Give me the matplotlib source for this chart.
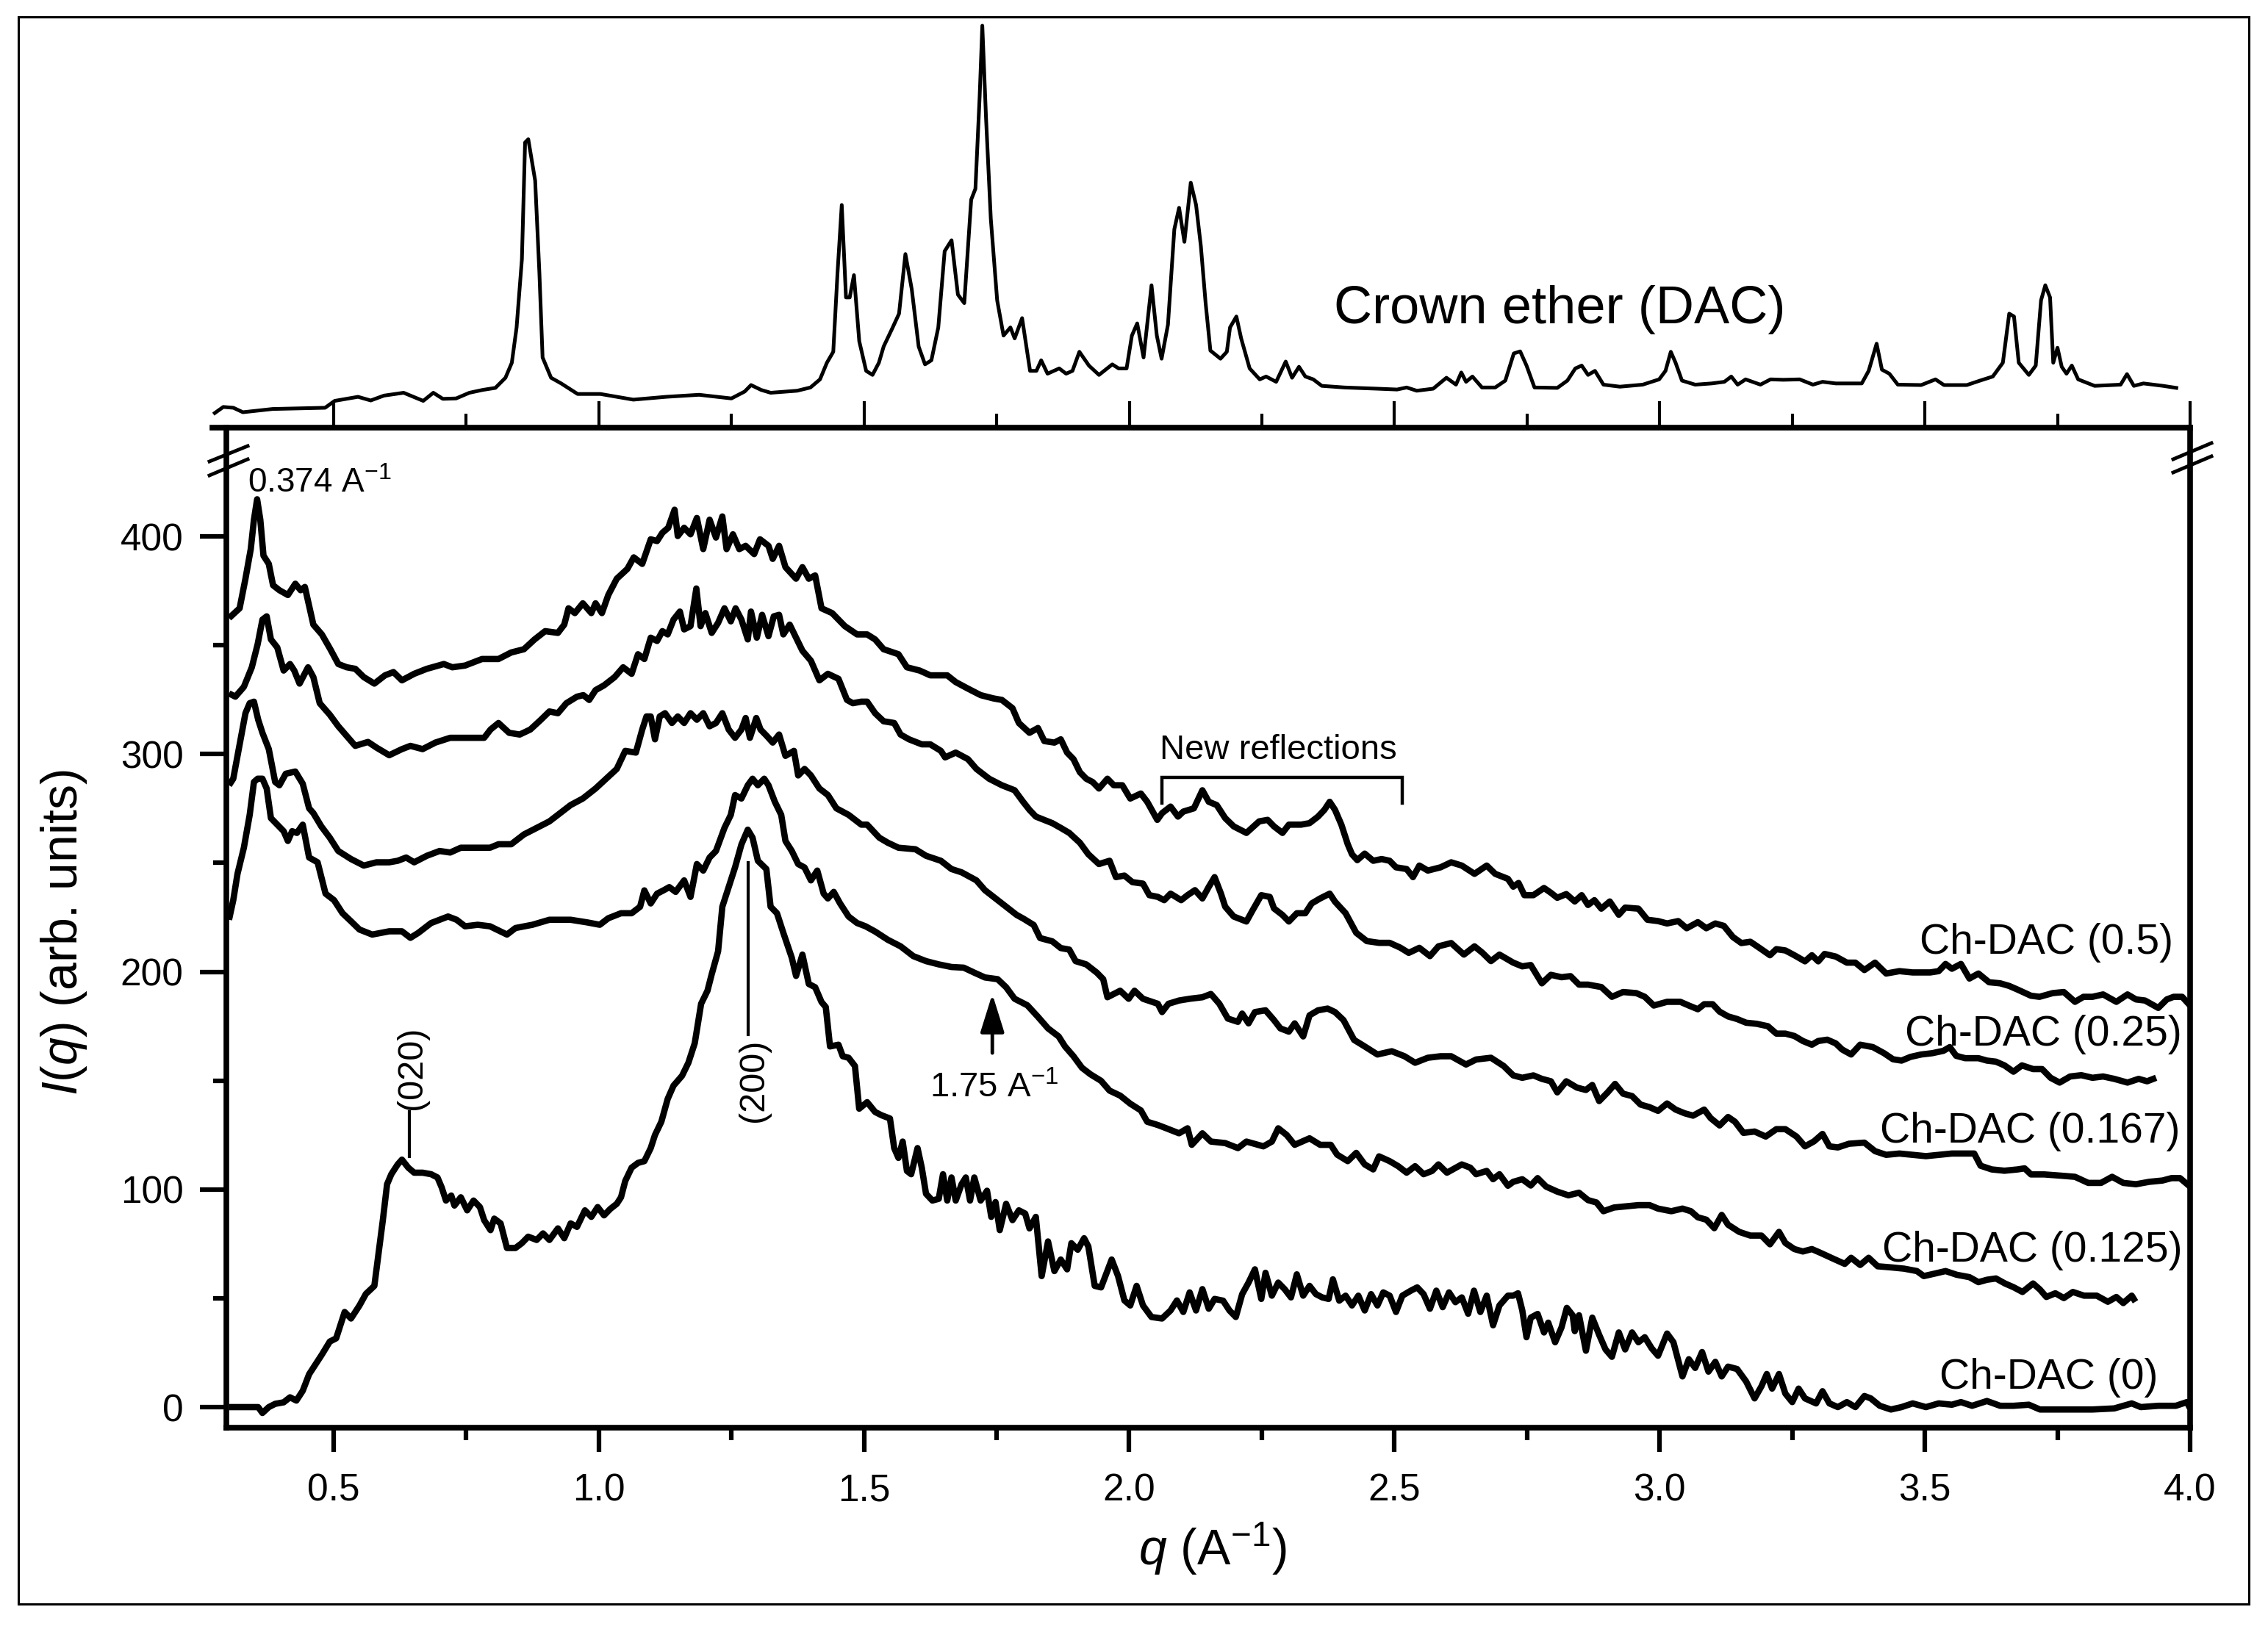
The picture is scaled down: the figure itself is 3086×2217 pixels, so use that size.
import matplotlib
matplotlib.use("Agg")
import matplotlib.pyplot as plt
from matplotlib.lines import Line2D
from matplotlib.patches import Rectangle
from matplotlib.ticker import FixedLocator

plt.rcParams['font.family'] = ['Liberation Sans', 'DejaVu Sans']
plt.rcParams['mathtext.fontset'] = 'custom'
plt.rcParams['mathtext.rm'] = 'Liberation Sans'
plt.rcParams['mathtext.it'] = 'Liberation Sans:italic'
plt.rcParams['mathtext.bf'] = 'Liberation Sans:bold'

# ---- data (q in A^-1, intensity in arb. units) ----
crown_pts = [
    (0.276, 3.6), (0.292, 5.1), (0.311, 4.9), (0.329, 3.8), (0.385, 4.6), (0.484, 4.9), (0.502, 6.6),
    (0.546, 7.6), (0.57, 6.7), (0.595, 7.9), (0.632, 8.6), (0.669, 6.6), (0.688, 8.6), (0.706, 7.1),
    (0.731, 7.2), (0.756, 8.6), (0.781, 9.3), (0.805, 9.8), (0.824, 12.3), (0.836, 16.0), (0.845, 24.7),
    (0.855, 41.5), (0.861, 70.3), (0.867, 71.1), (0.88, 60.9), (0.888, 38.1), (0.894, 17.3), (0.91, 12.3),
    (0.929, 10.9), (0.96, 8.3), (1.003, 8.3), (1.065, 6.9), (1.127, 7.6), (1.189, 8.1), (1.25, 7.2),
    (1.275, 8.9), (1.287, 10.5), (1.306, 9.3), (1.324, 8.6), (1.374, 9.1), (1.399, 9.9), (1.417, 11.9),
    (1.43, 16.0), (1.442, 18.7), (1.45, 38.1), (1.458, 54.9), (1.466, 32.1), (1.473, 32.1), (1.481, 37.6),
    (1.491, 21.3), (1.504, 14.0), (1.516, 13.0), (1.528, 16.0), (1.537, 20.0), (1.553, 24.4), (1.566, 28.1),
    (1.578, 42.8), (1.59, 34.1), (1.603, 20.0), (1.615, 15.6), (1.627, 16.6), (1.64, 24.7), (1.652, 43.5),
    (1.665, 46.2), (1.677, 32.8), (1.689, 30.7), (1.702, 56.2), (1.71, 58.9), (1.718, 81.7), (1.723, 99.1),
    (1.73, 76.4), (1.739, 51.5), (1.751, 31.4), (1.763, 22.7), (1.776, 24.7), (1.784, 22.0), (1.798, 27.0),
    (1.813, 14.0), (1.825, 14.0), (1.834, 16.6), (1.846, 13.3), (1.868, 14.6), (1.881, 13.3), (1.893, 14.0),
    (1.906, 18.7), (1.924, 15.3), (1.943, 13.0), (1.968, 15.6), (1.98, 14.6), (1.995, 14.6), (2.005, 22.7),
    (2.015, 25.7), (2.027, 17.3), (2.042, 35.1), (2.052, 22.7), (2.061, 17.0), (2.073, 25.4), (2.085, 48.9),
    (2.094, 54.2), (2.104, 45.8), (2.116, 60.4), (2.126, 54.9), (2.135, 44.8), (2.144, 30.7), (2.153, 19.0),
    (2.172, 17.0), (2.184, 18.7), (2.19, 24.7), (2.202, 27.4), (2.211, 22.0), (2.227, 14.6), (2.246, 11.9),
    (2.258, 12.6), (2.277, 11.3), (2.295, 16.3), (2.307, 12.3), (2.32, 15.0), (2.332, 12.6), (2.347, 11.9),
    (2.363, 10.3), (2.406, 9.9), (2.468, 9.6), (2.505, 9.4), (2.523, 9.9), (2.542, 9.1), (2.573, 9.6),
    (2.598, 12.3), (2.616, 10.6), (2.626, 13.6), (2.635, 11.3), (2.647, 12.6), (2.665, 9.9), (2.69, 9.9),
    (2.709, 11.6), (2.725, 18.3), (2.737, 18.8), (2.749, 15.3), (2.764, 9.9), (2.807, 9.8), (2.826, 11.6),
    (2.841, 14.6), (2.853, 15.3), (2.865, 13.0), (2.878, 14.0), (2.894, 10.6), (2.925, 10.1), (2.968, 10.6),
    (2.999, 11.9), (3.011, 14.0), (3.021, 18.7), (3.03, 16.0), (3.042, 11.6), (3.067, 10.6), (3.098, 10.9),
    (3.122, 11.3), (3.135, 12.6), (3.147, 10.6), (3.162, 11.9), (3.19, 10.6), (3.209, 11.9), (3.233, 11.8),
    (3.264, 11.9), (3.289, 10.6), (3.307, 11.3), (3.332, 10.9), (3.381, 10.9), (3.394, 14.0), (3.409, 20.7),
    (3.419, 14.3), (3.433, 13.3), (3.449, 10.6), (3.493, 10.5), (3.52, 11.9), (3.536, 10.5), (3.579, 10.5),
    (3.604, 11.6), (3.628, 12.6), (3.647, 16.0), (3.659, 28.1), (3.668, 27.4), (3.677, 16.0), (3.696, 13.0),
    (3.709, 15.3), (3.719, 31.4), (3.727, 35.1), (3.736, 32.1), (3.742, 16.0), (3.75, 19.7), (3.758, 15.0),
    (3.767, 13.3), (3.777, 15.3), (3.789, 11.9), (3.82, 10.3), (3.869, 10.6), (3.881, 13.2), (3.894, 10.3),
    (3.912, 10.9), (3.949, 10.3), (3.974, 9.8),
]

dac_05 = [
    (0.303, 362.5), (0.323, 367.0), (0.334, 380.6), (0.344, 394.2), (0.350, 407.7), (0.356, 417.1),
    (0.362, 407.7), (0.368, 391.2), (0.378, 387.4), (0.386, 377.6), (0.398, 375.3), (0.414, 373.1),
    (0.428, 378.3), (0.438, 375.3), (0.446, 376.8), (0.462, 359.5), (0.478, 355.0), (0.494, 348.2),
    (0.509, 341.4), (0.525, 339.9), (0.541, 339.2), (0.557, 335.4), (0.577, 332.4), (0.597, 336.2),
    (0.613, 337.7), (0.629, 333.9), (0.652, 336.9), (0.676, 339.2), (0.708, 341.4), (0.724, 339.9),
    (0.748, 340.7), (0.780, 343.7), (0.811, 343.7), (0.835, 346.7), (0.859, 348.2), (0.879, 352.7),
    (0.899, 356.5), (0.923, 355.7), (0.935, 359.5), (0.943, 367.0), (0.955, 364.8), (0.970, 369.3),
    (0.986, 364.8), (0.994, 369.3), (1.006, 364.8), (1.018, 373.1), (1.034, 380.6), (1.054, 385.1),
    (1.066, 390.4), (1.082, 387.4), (1.098, 398.7), (1.110, 397.9), (1.120, 401.7), (1.131, 404.0),
    (1.143, 412.3), (1.149, 400.2), (1.161, 404.0), (1.173, 401.0), (1.185, 408.5), (1.197, 394.2),
    (1.209, 407.7), (1.221, 399.5), (1.233, 409.2), (1.241, 394.2), (1.253, 401.0), (1.265, 394.2),
    (1.277, 395.7), (1.293, 391.9), (1.304, 398.7), (1.320, 395.7), (1.328, 389.7), (1.340, 395.7),
    (1.352, 385.9), (1.372, 380.6), (1.384, 385.9), (1.396, 380.6), (1.408, 382.1), (1.420, 367.0),
    (1.440, 364.8), (1.464, 358.8), (1.487, 355.0), (1.506, 355.0), (1.521, 352.7), (1.537, 348.2),
    (1.565, 345.9), (1.581, 339.9), (1.605, 338.4), (1.625, 336.2), (1.657, 336.2), (1.673, 333.1),
    (1.696, 330.1), (1.720, 327.1), (1.744, 325.6), (1.760, 324.9), (1.780, 321.1), (1.792, 314.3),
    (1.812, 309.8), (1.828, 312.0), (1.840, 306.0), (1.859, 305.3), (1.871, 306.8), (1.883, 300.7),
    (1.895, 297.7), (1.907, 291.7), (1.919, 288.7), (1.931, 287.2), (1.943, 284.2), (1.959, 288.7),
    (1.971, 285.7), (1.987, 285.7), (2.002, 279.6), (2.022, 281.9), (2.034, 278.1), (2.053, 269.8),
    (2.062, 272.9), (2.078, 275.9), (2.092, 271.3), (2.102, 273.6), (2.122, 275.1), (2.138, 283.4),
    (2.150, 278.1), (2.165, 276.6), (2.181, 270.6), (2.197, 266.8), (2.221, 263.8), (2.245, 269.1),
    (2.261, 269.8), (2.273, 266.8), (2.289, 263.8), (2.301, 267.6), (2.324, 267.6), (2.340, 268.3),
    (2.356, 271.3), (2.368, 274.4), (2.378, 278.1), (2.388, 274.4), (2.400, 267.6), (2.412, 258.6),
    (2.420, 254.0), (2.430, 251.3), (2.444, 254.3), (2.460, 251.0), (2.476, 251.8), (2.491, 251.0),
    (2.503, 248.0), (2.523, 247.2), (2.535, 243.5), (2.547, 248.8), (2.563, 246.5), (2.587, 248.0),
    (2.607, 250.3), (2.627, 248.8), (2.651, 245.0), (2.674, 248.8), (2.690, 245.0), (2.714, 242.7),
    (2.724, 239.1), (2.734, 240.8), (2.745, 235.2), (2.762, 235.2), (2.782, 238.5), (2.795, 236.3),
    (2.807, 234.0), (2.824, 235.7), (2.840, 232.3), (2.853, 235.2), (2.865, 230.7), (2.877, 232.9),
    (2.890, 229.0), (2.906, 232.3), (2.923, 226.2), (2.935, 229.5), (2.960, 229.0), (2.977, 223.9),
    (2.997, 223.3), (3.014, 222.2), (3.035, 223.3), (3.051, 220.0), (3.072, 222.8), (3.088, 220.0),
    (3.105, 222.2), (3.121, 221.1), (3.138, 216.0), (3.154, 213.2), (3.171, 213.8), (3.188, 211.0),
    (3.208, 207.6), (3.220, 210.4), (3.237, 209.8), (3.254, 207.6), (3.274, 204.8), (3.287, 207.6),
    (3.299, 204.8), (3.311, 208.2), (3.332, 207.0), (3.353, 204.2), (3.369, 204.2), (3.386, 200.8),
    (3.406, 204.2), (3.427, 199.2), (3.452, 200.3), (3.477, 199.7), (3.510, 199.7), (3.526, 200.3),
    (3.539, 203.6), (3.551, 201.4), (3.568, 203.6), (3.584, 196.9), (3.601, 199.2), (3.621, 195.2),
    (3.642, 194.7), (3.659, 193.5), (3.675, 191.8), (3.700, 189.0), (3.716, 188.5), (3.741, 190.2),
    (3.762, 190.7), (3.783, 186.2), (3.799, 188.5), (3.816, 188.5), (3.836, 189.6), (3.861, 186.2),
    (3.882, 189.6), (3.898, 187.3), (3.915, 186.8), (3.940, 183.4), (3.956, 187.3), (3.969, 188.5),
    (3.985, 188.5), (4.0, 184.5),
]

dac_025 = [
    (0.303, 327.9), (0.315, 326.4), (0.331, 330.9), (0.346, 339.9), (0.357, 350.5), (0.366, 361.8),
    (0.374, 363.3), (0.382, 352.7), (0.394, 349.0), (0.406, 338.4), (0.418, 341.4), (0.426, 338.4),
    (0.436, 332.4), (0.452, 339.9), (0.462, 335.4), (0.474, 323.4), (0.493, 318.1), (0.509, 312.8),
    (0.525, 308.3), (0.541, 303.8), (0.565, 305.6), (0.581, 303.0), (0.605, 299.5), (0.629, 302.3),
    (0.645, 303.8), (0.668, 302.3), (0.692, 305.3), (0.720, 307.5), (0.756, 307.5), (0.784, 307.5),
    (0.796, 311.3), (0.811, 314.3), (0.831, 309.8), (0.851, 309.0), (0.871, 311.3), (0.891, 315.8),
    (0.907, 319.6), (0.923, 318.8), (0.939, 323.4), (0.959, 326.4), (0.971, 327.1), (0.982, 324.9),
    (0.994, 329.4), (1.010, 331.6), (1.030, 335.4), (1.046, 339.9), (1.062, 336.9), (1.074, 345.9),
    (1.086, 343.7), (1.098, 353.5), (1.110, 352.0), (1.120, 356.5), (1.130, 355.0), (1.141, 361.8),
    (1.153, 365.5), (1.161, 357.3), (1.173, 358.8), (1.184, 376.1), (1.192, 358.8), (1.201, 364.8),
    (1.213, 355.7), (1.225, 360.3), (1.237, 367.0), (1.249, 361.0), (1.258, 367.0), (1.269, 361.8),
    (1.281, 352.7), (1.287, 365.5), (1.298, 353.5), (1.308, 364.0), (1.320, 354.2), (1.330, 363.3),
    (1.340, 364.0), (1.348, 355.0), (1.360, 359.5), (1.372, 353.5), (1.384, 347.5), (1.400, 342.9),
    (1.416, 333.9), (1.432, 336.9), (1.452, 334.6), (1.468, 324.9), (1.479, 323.4), (1.495, 324.1),
    (1.506, 324.1), (1.521, 318.8), (1.537, 315.1), (1.557, 314.3), (1.569, 309.0), (1.585, 306.8),
    (1.609, 304.5), (1.625, 304.5), (1.645, 301.5), (1.653, 298.5), (1.673, 300.7), (1.696, 297.7),
    (1.712, 293.2), (1.736, 288.7), (1.760, 285.7), (1.784, 283.4), (1.800, 278.1), (1.812, 274.4),
    (1.824, 271.3), (1.855, 268.3), (1.871, 266.1), (1.887, 263.8), (1.907, 259.3), (1.923, 254.0),
    (1.943, 249.5), (1.963, 251.0), (1.975, 243.5), (1.991, 244.2), (2.006, 241.2), (2.026, 240.5),
    (2.038, 235.2), (2.054, 234.4), (2.066, 232.9), (2.078, 235.9), (2.098, 232.9), (2.110, 235.2),
    (2.124, 237.5), (2.138, 233.7), (2.150, 239.0), (2.161, 243.5), (2.173, 235.9), (2.181, 229.9),
    (2.197, 225.4), (2.221, 223.1), (2.233, 228.4), (2.249, 235.2), (2.265, 234.4), (2.273, 229.1),
    (2.289, 226.1), (2.301, 223.1), (2.316, 226.9), (2.332, 226.9), (2.344, 231.4), (2.360, 233.7),
    (2.378, 235.9), (2.388, 232.2), (2.408, 226.9), (2.428, 217.9), (2.448, 214.1), (2.471, 213.3),
    (2.491, 213.3), (2.511, 211.1), (2.527, 208.7), (2.547, 211.0), (2.567, 207.2), (2.583, 211.7),
    (2.607, 213.2), (2.631, 207.9), (2.651, 211.7), (2.666, 208.7), (2.682, 204.9), (2.698, 207.9),
    (2.724, 204.2), (2.741, 202.5), (2.757, 203.1), (2.778, 194.7), (2.795, 198.6), (2.815, 197.5),
    (2.832, 198.0), (2.848, 194.1), (2.865, 194.1), (2.890, 193.0), (2.910, 188.5), (2.931, 190.7),
    (2.956, 190.2), (2.972, 188.5), (2.989, 184.5), (3.014, 186.2), (3.039, 186.2), (3.055, 184.5),
    (3.072, 182.8), (3.084, 185.1), (3.100, 185.1), (3.113, 181.7), (3.129, 179.5), (3.146, 178.3),
    (3.163, 176.6), (3.183, 176.1), (3.204, 175.0), (3.220, 171.6), (3.237, 171.6), (3.254, 170.5),
    (3.270, 168.2), (3.287, 166.5), (3.299, 168.2), (3.316, 168.8), (3.332, 167.1), (3.344, 164.3),
    (3.361, 162.0), (3.378, 166.5), (3.402, 165.4), (3.423, 162.6), (3.440, 159.8), (3.456, 159.2),
    (3.473, 160.9), (3.493, 162.0), (3.514, 162.6), (3.535, 163.7), (3.547, 165.4), (3.559, 161.4),
    (3.576, 160.3), (3.601, 160.3), (3.617, 159.2), (3.634, 158.7), (3.650, 157.0), (3.667, 154.1),
    (3.683, 157.0), (3.704, 155.3), (3.721, 155.3), (3.737, 151.3), (3.754, 149.1), (3.774, 151.9),
    (3.795, 152.5), (3.816, 151.3), (3.836, 151.9), (3.857, 150.8), (3.882, 149.1), (3.903, 150.8),
    (3.919, 149.7), (3.936, 151.3),
]

dac_0167 = [
    (0.303, 285.7), (0.311, 288.7), (0.319, 299.2), (0.327, 309.8), (0.334, 318.8), (0.342, 323.4),
    (0.350, 324.1), (0.358, 315.8), (0.366, 309.8), (0.378, 302.3), (0.390, 287.2), (0.398, 285.7),
    (0.410, 291.0), (0.428, 292.0), (0.442, 286.4), (0.454, 275.1), (0.462, 272.9), (0.477, 266.8),
    (0.493, 261.6), (0.509, 255.5), (0.533, 251.8), (0.557, 248.8), (0.581, 250.3), (0.605, 250.3),
    (0.621, 251.0), (0.637, 252.5), (0.652, 250.3), (0.676, 253.3), (0.700, 255.5), (0.720, 254.8),
    (0.740, 257.0), (0.764, 257.0), (0.795, 257.0), (0.811, 258.6), (0.835, 258.6), (0.859, 263.1),
    (0.883, 266.1), (0.907, 269.1), (0.923, 272.1), (0.947, 276.6), (0.970, 279.6), (0.994, 284.2),
    (1.014, 288.7), (1.034, 293.2), (1.050, 301.5), (1.070, 300.7), (1.082, 311.3), (1.090, 317.3),
    (1.098, 317.3), (1.106, 306.8), (1.115, 317.3), (1.125, 318.8), (1.138, 314.3), (1.149, 317.3),
    (1.161, 314.3), (1.173, 318.8), (1.185, 315.8), (1.197, 318.8), (1.209, 312.8), (1.221, 314.3),
    (1.233, 318.8), (1.245, 311.3), (1.257, 307.5), (1.269, 311.3), (1.277, 316.6), (1.285, 307.5),
    (1.297, 316.6), (1.305, 311.3), (1.317, 308.3), (1.328, 305.3), (1.340, 309.0), (1.352, 299.2),
    (1.368, 301.5), (1.376, 290.2), (1.388, 293.2), (1.400, 290.2), (1.416, 284.2), (1.432, 281.2),
    (1.448, 275.1), (1.471, 272.1), (1.495, 267.6), (1.506, 267.6), (1.529, 261.6), (1.545, 259.3),
    (1.565, 257.0), (1.597, 256.3), (1.617, 253.3), (1.645, 251.0), (1.665, 247.2), (1.684, 245.7),
    (1.712, 242.0), (1.728, 237.5), (1.748, 233.7), (1.768, 229.9), (1.788, 226.1), (1.800, 224.5),
    (1.820, 221.5), (1.832, 215.5), (1.855, 214.0), (1.871, 210.9), (1.887, 210.2), (1.899, 204.9),
    (1.919, 203.4), (1.939, 199.6), (1.951, 196.6), (1.959, 188.3), (1.983, 191.3), (1.999, 187.6),
    (2.010, 191.3), (2.026, 187.6), (2.054, 185.3), (2.062, 181.5), (2.074, 185.3), (2.094, 186.8),
    (2.114, 187.6), (2.138, 188.3), (2.154, 189.8), (2.170, 185.3), (2.186, 178.5), (2.205, 177.0),
    (2.213, 180.8), (2.225, 176.3), (2.237, 181.5), (2.257, 182.3), (2.273, 177.8), (2.285, 174.0),
    (2.301, 172.5), (2.312, 176.3), (2.328, 170.3), (2.340, 180.0), (2.356, 182.3), (2.374, 183.1),
    (2.388, 181.5), (2.404, 177.8), (2.424, 168.7), (2.444, 165.7), (2.468, 162.0), (2.495, 163.5),
    (2.519, 161.2), (2.539, 158.2), (2.563, 160.5), (2.587, 161.2), (2.607, 161.2), (2.635, 157.4),
    (2.654, 159.7), (2.682, 160.5), (2.706, 156.7), (2.724, 152.4), (2.741, 151.3), (2.762, 152.4),
    (2.778, 150.8), (2.795, 149.7), (2.807, 144.6), (2.824, 149.7), (2.844, 146.8), (2.861, 145.7),
    (2.873, 148.0), (2.886, 140.6), (2.902, 144.6), (2.916, 148.5), (2.931, 144.0), (2.948, 142.9),
    (2.964, 139.0), (2.981, 137.8), (2.997, 136.1), (3.014, 139.5), (3.030, 136.7), (3.047, 135.0),
    (3.063, 133.9), (3.084, 136.7), (3.096, 132.8), (3.113, 129.4), (3.129, 133.3), (3.142, 131.1),
    (3.158, 126.0), (3.179, 126.6), (3.200, 124.3), (3.220, 127.7), (3.237, 127.7), (3.258, 124.3),
    (3.274, 119.8), (3.291, 122.1), (3.307, 125.5), (3.320, 119.8), (3.336, 119.3), (3.357, 121.0),
    (3.386, 121.5), (3.406, 117.6), (3.427, 115.9), (3.452, 116.5), (3.477, 115.9), (3.502, 115.3),
    (3.526, 115.9), (3.551, 116.5), (3.593, 116.5), (3.605, 110.9), (3.626, 109.2), (3.650, 108.6),
    (3.675, 109.2), (3.688, 109.7), (3.700, 106.9), (3.725, 106.9), (3.758, 106.3), (3.783, 105.8),
    (3.808, 103.0), (3.832, 103.0), (3.853, 105.8), (3.874, 103.0), (3.898, 102.4), (3.923, 103.5),
    (3.948, 104.1), (3.965, 105.2), (3.981, 105.2), (4.0, 101.3),
]

dac_0125 = [
    (0.303, 223.9), (0.311, 232.9), (0.319, 245.0), (0.331, 257.0), (0.342, 272.1), (0.350, 287.2),
    (0.357, 288.7), (0.366, 288.7), (0.374, 284.2), (0.382, 270.6), (0.394, 267.6), (0.406, 264.6),
    (0.414, 260.1), (0.422, 264.6), (0.431, 263.8), (0.442, 267.6), (0.454, 252.5), (0.470, 250.3),
    (0.485, 235.9), (0.501, 232.9), (0.517, 226.9), (0.533, 223.2), (0.549, 219.4), (0.573, 217.1),
    (0.605, 218.6), (0.629, 218.6), (0.645, 215.6), (0.660, 217.9), (0.684, 222.4), (0.700, 223.9),
    (0.716, 225.4), (0.732, 223.9), (0.748, 220.9), (0.772, 221.6), (0.795, 220.9), (0.827, 217.1),
    (0.843, 220.1), (0.875, 221.6), (0.907, 223.9), (0.947, 223.9), (0.978, 222.7), (1.002, 221.6),
    (1.018, 224.6), (1.042, 226.9), (1.062, 226.9), (1.078, 229.9), (1.086, 237.4), (1.098, 231.4),
    (1.110, 235.9), (1.122, 237.4), (1.133, 238.9), (1.145, 236.7), (1.161, 242.0), (1.173, 234.4),
    (1.185, 249.5), (1.197, 246.5), (1.209, 252.5), (1.221, 255.5), (1.237, 266.1), (1.249, 272.1),
    (1.257, 281.2), (1.269, 279.6), (1.281, 285.7), (1.290, 288.7), (1.300, 285.7), (1.312, 288.7),
    (1.320, 285.7), (1.332, 278.1), (1.344, 272.1), (1.352, 260.1), (1.364, 255.5), (1.376, 249.5),
    (1.388, 247.9), (1.400, 242.0), (1.412, 246.5), (1.424, 235.9), (1.432, 233.7), (1.443, 236.7),
    (1.455, 231.4), (1.471, 225.4), (1.487, 222.4), (1.503, 220.9), (1.521, 218.5), (1.545, 214.7),
    (1.569, 211.7), (1.593, 207.2), (1.617, 204.9), (1.641, 203.4), (1.665, 202.2), (1.688, 201.9),
    (1.708, 199.6), (1.728, 197.4), (1.752, 196.6), (1.768, 192.9), (1.784, 187.6), (1.808, 184.6),
    (1.828, 179.3), (1.847, 174.0), (1.867, 170.3), (1.879, 165.7), (1.895, 161.2), (1.911, 155.9),
    (1.927, 152.9), (1.947, 149.9), (1.963, 145.4), (1.983, 143.1), (2.002, 139.4), (2.022, 136.3),
    (2.034, 131.1), (2.054, 129.6), (2.070, 128.1), (2.094, 125.8), (2.110, 128.1), (2.118, 120.5),
    (2.138, 125.8), (2.154, 122.0), (2.181, 121.3), (2.205, 119.0), (2.221, 122.0), (2.253, 119.8),
    (2.269, 122.0), (2.281, 128.1), (2.297, 125.0), (2.312, 120.5), (2.340, 123.5), (2.360, 120.5),
    (2.380, 120.5), (2.392, 116.0), (2.412, 113.0), (2.428, 116.8), (2.444, 111.5), (2.460, 109.2),
    (2.471, 115.2), (2.491, 113.0), (2.507, 110.7), (2.523, 107.7), (2.539, 110.7), (2.555, 107.0),
    (2.571, 108.5), (2.583, 111.5), (2.599, 107.7), (2.627, 111.5), (2.643, 110.0), (2.654, 107.0),
    (2.674, 108.5), (2.686, 104.7), (2.698, 107.0), (2.714, 101.7), (2.724, 103.5), (2.741, 104.7),
    (2.757, 101.8), (2.770, 105.2), (2.786, 101.3), (2.807, 99.0), (2.828, 97.3), (2.848, 98.5),
    (2.865, 95.1), (2.881, 94.0), (2.894, 90.0), (2.914, 91.7), (2.939, 92.3), (2.960, 92.8),
    (2.981, 92.8), (2.997, 91.2), (3.022, 90.0), (3.043, 91.2), (3.059, 90.0), (3.072, 87.2),
    (3.088, 86.1), (3.103, 82.2), (3.117, 88.3), (3.129, 83.8), (3.150, 80.5), (3.171, 78.8),
    (3.192, 78.8), (3.208, 74.8), (3.225, 80.5), (3.237, 75.4), (3.254, 72.6), (3.270, 71.5),
    (3.287, 72.6), (3.303, 70.9), (3.328, 68.1), (3.349, 65.8), (3.361, 68.6), (3.378, 65.3),
    (3.394, 68.6), (3.411, 64.7), (3.436, 64.2), (3.461, 63.6), (3.485, 62.5), (3.498, 60.2),
    (3.518, 61.3), (3.539, 62.5), (3.560, 60.8), (3.584, 59.7), (3.601, 57.4), (3.617, 58.5),
    (3.634, 59.1), (3.651, 56.8), (3.667, 55.1), (3.684, 52.9), (3.704, 56.8), (3.717, 54.0),
    (3.729, 50.6), (3.746, 52.3), (3.762, 50.1), (3.779, 52.9), (3.800, 51.2), (3.824, 51.2),
    (3.845, 48.4), (3.861, 50.6), (3.874, 47.8), (3.890, 51.2), (3.897, 48.4),
]

dac_0 = [
    (0.303, 0.0), (0.358, 0.0), (0.366, -2.7), (0.378, 0.0), (0.390, 1.5), (0.406, 2.2), (0.418, 4.5),
    (0.430, 3.0), (0.442, 7.5), (0.454, 15.1), (0.466, 19.6), (0.478, 24.1), (0.493, 30.1), (0.505, 31.6),
    (0.513, 37.6), (0.521, 43.7), (0.533, 40.7), (0.549, 46.7), (0.561, 52.0), (0.577, 55.7), (0.585, 70.8),
    (0.593, 85.9), (0.601, 102.4), (0.609, 107.0), (0.621, 111.5), (0.629, 113.7), (0.641, 110.0),
    (0.652, 107.7), (0.668, 107.7), (0.684, 107.0), (0.696, 105.5), (0.704, 100.9), (0.712, 94.9),
    (0.722, 97.2), (0.728, 92.6), (0.740, 96.4), (0.752, 90.4), (0.764, 94.9), (0.776, 91.9), (0.784, 85.9),
    (0.796, 81.3), (0.803, 86.6), (0.815, 84.4), (0.827, 73.1), (0.843, 73.1), (0.855, 75.3), (0.867, 78.3),
    (0.883, 76.8), (0.895, 79.8), (0.907, 76.8), (0.923, 82.1), (0.935, 77.6), (0.947, 84.4), (0.959, 82.8),
    (0.974, 90.4), (0.986, 87.4), (0.998, 91.9), (1.010, 88.1), (1.022, 91.1), (1.034, 93.4), (1.042, 96.4),
    (1.050, 103.9), (1.062, 110.0), (1.074, 112.2), (1.086, 113.0), (1.098, 119.0), (1.106, 125.0),
    (1.118, 131.1), (1.130, 141.6), (1.141, 147.7), (1.157, 152.2), (1.169, 158.2), (1.181, 167.2),
    (1.193, 185.3), (1.205, 191.3), (1.213, 198.9), (1.225, 209.4), (1.233, 229.9), (1.245, 238.9),
    (1.257, 248.0), (1.269, 258.5), (1.281, 265.3), (1.290, 261.6), (1.300, 251.0), (1.316, 247.2),
    (1.324, 229.9), (1.336, 226.9), (1.348, 217.9), (1.364, 206.4), (1.372, 198.1), (1.384, 207.9),
    (1.396, 194.4), (1.408, 192.9), (1.420, 186.1), (1.428, 183.8), (1.436, 165.7), (1.452, 166.5),
    (1.460, 161.2), (1.471, 160.5), (1.483, 156.7), (1.491, 137.1), (1.506, 140.1), (1.521, 135.6),
    (1.533, 134.1), (1.549, 132.6), (1.557, 119.0), (1.565, 114.5), (1.573, 122.0), (1.581, 108.5),
    (1.589, 107.0), (1.601, 119.0), (1.609, 110.0), (1.617, 98.0), (1.629, 94.9), (1.641, 95.7),
    (1.649, 107.0), (1.657, 94.9), (1.665, 105.5), (1.673, 94.9), (1.684, 102.4), (1.692, 105.5),
    (1.700, 94.9), (1.708, 105.5), (1.720, 94.9), (1.732, 99.4), (1.740, 87.4), (1.748, 94.2), (1.756, 81.3),
    (1.768, 93.4), (1.780, 85.9), (1.792, 90.4), (1.804, 88.9), (1.812, 82.1), (1.824, 87.4), (1.835, 60.2),
    (1.847, 76.1), (1.859, 62.5), (1.871, 67.8), (1.883, 63.3), (1.891, 75.3), (1.903, 72.3), (1.915, 77.6),
    (1.923, 73.8), (1.935, 55.7), (1.947, 55.0), (1.967, 67.8), (1.979, 60.2), (1.991, 49.0), (2.002, 46.7),
    (2.014, 55.7), (2.026, 46.7), (2.042, 41.4), (2.062, 40.7), (2.078, 44.4), (2.090, 49.0), (2.102, 43.7),
    (2.114, 52.7), (2.126, 44.4), (2.138, 54.2), (2.150, 45.2), (2.161, 49.7), (2.177, 48.9), (2.189, 44.4),
    (2.201, 41.4), (2.213, 51.9), (2.225, 57.2), (2.237, 63.3), (2.249, 49.7), (2.257, 61.7), (2.269, 51.2),
    (2.281, 57.2), (2.293, 54.2), (2.305, 50.4), (2.316, 61.0), (2.328, 51.2), (2.340, 55.7), (2.352, 51.9),
    (2.364, 50.4), (2.376, 49.7), (2.384, 58.7), (2.396, 48.9), (2.408, 51.2), (2.420, 46.7), (2.432, 51.2),
    (2.444, 44.4), (2.456, 51.9), (2.468, 46.7), (2.479, 52.7), (2.491, 51.2), (2.503, 43.7), (2.515, 51.2),
    (2.531, 53.5), (2.543, 55.0), (2.555, 51.9), (2.567, 45.2), (2.579, 53.5), (2.591, 45.9), (2.603, 52.7),
    (2.615, 48.2), (2.627, 50.4), (2.639, 42.9), (2.650, 53.5), (2.662, 43.7), (2.674, 51.2), (2.686, 37.6),
    (2.698, 46.7), (2.714, 51.2), (2.724, 51.2), (2.733, 52.3), (2.741, 44.5), (2.749, 32.1), (2.757, 41.1),
    (2.770, 42.8), (2.782, 34.3), (2.790, 38.8), (2.803, 29.8), (2.815, 36.6), (2.825, 45.6), (2.836, 42.2),
    (2.840, 34.9), (2.848, 42.2), (2.861, 25.9), (2.873, 41.1), (2.886, 33.2), (2.898, 26.5), (2.910, 23.1),
    (2.923, 34.3), (2.935, 26.5), (2.948, 34.3), (2.960, 29.8), (2.972, 32.1), (2.985, 27.0), (2.997, 23.6),
    (3.014, 33.8), (3.026, 29.8), (3.043, 14.1), (3.055, 22.0), (3.067, 18.0), (3.080, 25.3), (3.092, 16.3),
    (3.105, 20.8), (3.117, 14.1), (3.129, 18.6), (3.146, 17.5), (3.163, 11.8), (3.179, 4.0), (3.192, 9.6),
    (3.202, 15.2), (3.212, 8.5), (3.225, 15.2), (3.237, 6.2), (3.250, 2.3), (3.262, 8.5), (3.274, 4.0),
    (3.295, 1.7), (3.307, 7.3), (3.320, 1.7), (3.336, 0.0), (3.353, 2.3), (3.369, 0.0), (3.386, 5.1),
    (3.398, 4.0), (3.415, 0.6), (3.436, -1.1), (3.456, 0.0), (3.477, 1.7), (3.502, 0.0), (3.526, 1.7),
    (3.551, 1.1), (3.568, 2.3), (3.589, 0.6), (3.617, 2.8), (3.642, 0.6), (3.667, 0.6), (3.696, 1.1),
    (3.717, -1.1), (3.766, -1.1), (3.816, -1.1), (3.857, -0.6), (3.890, 1.7), (3.907, 0.0), (3.940, 0.6),
    (3.973, 0.6), (3.994, 2.3), (4.0, -0.6),
]

series = [dac_05, dac_025, dac_0167, dac_0125, dac_0]
series_labels = ['Ch-DAC (0.5)', 'Ch-DAC (0.25)', 'Ch-DAC (0.167)', 'Ch-DAC (0.125)', 'Ch-DAC (0)']
label_x = [3.968, 3.985, 3.981, 3.985, 3.939]
label_y = [208.2, 166.1, 121.5, 66.9, 8.4]

x_major = [0.5, 1.0, 1.5, 2.0, 2.5, 3.0, 3.5, 4.0]
x_minor = [0.75, 1.25, 1.75, 2.25, 2.75, 3.25, 3.75]
y_major = [0, 100, 200, 300, 400]
y_minor = [50, 150, 250, 350]

W, H = 3086, 2217
fig = plt.figure(figsize=(W / 100, H / 100), dpi=100)


def fx(px):
    return px / W


def fy(py):
    return 1 - py / H


SPINE = 5.5

# main panel
ax = fig.add_axes([fx(308), fy(1943), fx(2980) - fx(308), fy(582) - fy(1943)])
for qi_pts in series:
    q, inten = zip(*qi_pts)
    ax.plot(q, inten, color='black', lw=6.2, solid_joinstyle='round', solid_capstyle='butt')
ax.set_xlim(0.298, 4.0)
ax.set_ylim(-9.45, 450)
ax.spines['top'].set_visible(False)
for s in ['left', 'right', 'bottom']:
    ax.spines[s].set_linewidth(SPINE)
ax.xaxis.set_major_locator(FixedLocator(x_major))
ax.xaxis.set_minor_locator(FixedLocator(x_minor))
ax.yaxis.set_major_locator(FixedLocator(y_major))
ax.yaxis.set_minor_locator(FixedLocator(y_minor))
ax.set_xticklabels(['%.1f' % v for v in x_major])
ax.set_yticklabels(['%d' % v for v in y_major])
ax.tick_params(axis='x', which='major', direction='out', length=24, width=4.5, labelsize=37, pad=20)
ax.tick_params(axis='x', which='minor', direction='out', length=12, width=4.5)
ax.tick_params(axis='y', which='major', direction='out', length=26, width=4.5, labelsize=37, pad=16)
ax.tick_params(axis='y', which='minor', direction='out', length=13, width=4.5)
ax.tick_params(top=False, right=False)

for lab, lx, ly in zip(series_labels, label_x, label_y):
    ax.text(lx, ly, lab, ha='right', va='baseline', fontsize=41)

ax.text(0.338, 420.3, r'0.374 A$^{-1}$', ha='left', va='baseline', fontsize=33)
ax.text(1.745, 142.4, r'1.75 A$^{-1}$', ha='center', va='baseline', fontsize=34)
ax.annotate('', xy=(1.742, 189.8), xytext=(1.742, 162.7),
            arrowprops=dict(arrowstyle='-|>,head_length=1.6,head_width=0.5', lw=3.5,
                            color='black', shrinkA=0, shrinkB=0, mutation_scale=20))

ax.text(0.648, 156, '(020)', rotation=90, ha='center', va='center', fontsize=35)
ax.plot([0.643, 0.643], [115.2, 135.6], color='black', lw=3)
ax.text(1.292, 150, '(200)', rotation=90, ha='center', va='center', fontsize=35)
ax.plot([1.281, 1.281], [171, 250], color='black', lw=3)

ax.text(2.058, 297.7, 'New reflections', ha='left', va='baseline', fontsize=34)
ax.plot([2.062, 2.062, 2.515, 2.515], [277.4, 289.4, 289.4, 277.4], color='black', lw=3.2,
        solid_joinstyle='miter')

# crown ether panel on top
ax_top = fig.add_axes([fx(289), fy(582), fx(2980) - fx(289), fy(30) - fy(582)])
ax_top.set_facecolor('none')
cq, cv = zip(*crown_pts)
ax_top.plot(cq, cv, color='black', lw=3.6, solid_joinstyle='round')
ax_top.set_xlim(0.2715, 4.0)
ax_top.set_ylim(0, 100)
for s in ['left', 'right', 'top']:
    ax_top.spines[s].set_visible(False)
ax_top.spines['bottom'].set_linewidth(SPINE)
ax_top.xaxis.set_major_locator(FixedLocator(x_major))
ax_top.xaxis.set_minor_locator(FixedLocator(x_minor))
ax_top.set_yticks([])
ax_top.tick_params(axis='x', which='major', direction='in', length=26, width=3, labelbottom=False)
ax_top.tick_params(axis='x', which='minor', direction='in', length=14, width=3)
ax_top.text(2.812, 25.7, 'Crown ether (DAC)', ha='center', va='baseline', fontsize=52)

# axis labels
fig.text(fx(1650), fy(2130), r'$q$ (A$^{-1}$)', ha='center', va='baseline', fontsize=49)
fig.text(fx(87), fy(1269), r'$I$($q$) (arb. units)', rotation=90, ha='center', va='center', fontsize=49)

# axis break marks
for x0, x1, y0, y1 in [(285, 337, 628, 607), (285, 337, 647, 625),
                       (2957, 3009, 625, 603), (2957, 3009, 643, 621)]:
    fig.add_artist(Line2D([fx(x0), fx(x1)], [fy(y0), fy(y1)], color='black', lw=3.5,
                          transform=fig.transFigure))

# outer frame
fig.add_artist(Rectangle((fx(25), fy(2183)), fx(3060) - fx(25), fy(23) - fy(2183),
                         fill=False, lw=2.2, edgecolor='black', transform=fig.transFigure))

fig.savefig('out.png', dpi=100)
